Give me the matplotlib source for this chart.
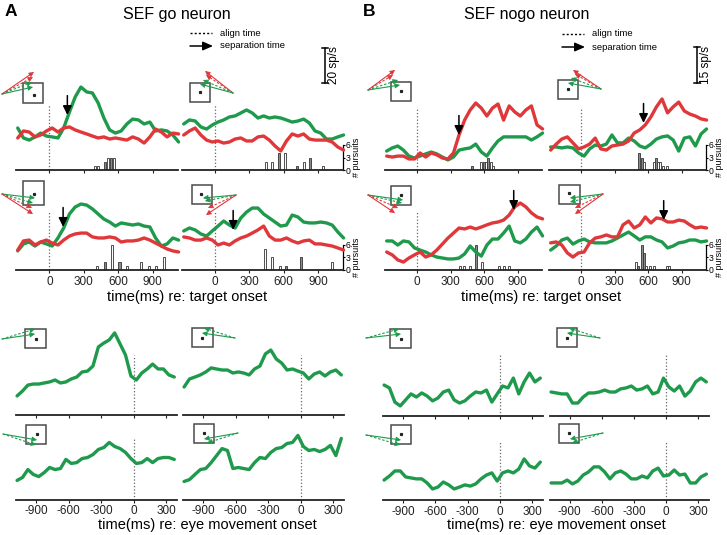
import matplotlib
matplotlib.use('Agg')
import matplotlib.pyplot as plt
from matplotlib.patches import Rectangle

plt.rcParams['font.family'] = ['Liberation Sans', 'DejaVu Sans']
plt.rcParams['axes.unicode_minus'] = False

# ---------------- data ----------------
t_target = [-275, -225, -175, -125, -75, -25, 25, 75, 125, 175, 225, 275, 325, 375,
            425, 475, 525, 575, 625, 675, 725, 775, 825, 875, 925, 975, 1025, 1075, 1125]
t_move = [-1075, -1025, -975, -925, -875, -825, -775, -725, -675, -625, -575, -525, -475,
          -425, -375, -325, -275, -225, -175, -125, -75, -25, 25, 75, 125, 175, 225, 275,
          325, 375]
target_ticks = [0, 300, 600, 900]
move_ticks = [-900, -600, -300, 0, 300]

# SEF go neuron (sp/s), target aligned
A1_go = [24.0, 18.3, 17.1, 18.9, 21.1, 19.4, 18.9, 18.3, 24.0, 33.1, 41.7, 47.4, 44.6, 44.0,
         38.3, 29.7, 22.9, 21.1, 22.3, 26.3, 29.1, 28.6, 26.3, 27.4, 22.3, 22.9, 22.3, 20.0, 16.0]
A1_nogo = [18.3, 22.3, 21.7, 18.9, 20.0, 22.3, 24.0, 21.7, 24.0, 24.6, 22.9, 21.7, 20.6, 19.4,
           18.3, 18.9, 17.7, 18.3, 17.7, 17.1, 18.9, 17.7, 15.4, 18.9, 23.4, 21.7, 18.9, 21.1, 20.6]
A2_go = [26.3, 28.6, 28.0, 24.6, 23.4, 25.7, 27.4, 28.6, 30.3, 30.9, 32.6, 34.3, 32.6, 29.7,
         30.9, 29.7, 30.3, 29.7, 28.6, 27.4, 28.0, 29.1, 26.9, 22.3, 21.1, 17.7, 17.7, 18.9, 20.0]
A2_nogo = [20.0, 22.3, 24.0, 20.0, 17.1, 16.0, 16.6, 15.4, 16.0, 17.7, 18.3, 16.6, 16.6, 18.9,
           19.4, 17.1, 13.7, 10.9, 16.6, 20.6, 19.4, 20.6, 17.7, 17.1, 17.1, 17.1, 16.0, 13.1, 11.4]
A3_go = [10.9, 14.9, 16.0, 13.7, 16.0, 14.9, 13.7, 18.3, 24.0, 32.0, 36.0, 37.7, 37.1, 34.9,
         32.0, 29.1, 27.4, 25.1, 26.9, 26.3, 25.7, 26.3, 25.1, 24.6, 18.3, 13.7, 14.9, 18.3, 17.1]
A3_nogo = [11.4, 16.6, 17.1, 14.3, 16.0, 17.1, 15.4, 14.3, 17.1, 19.4, 20.6, 21.1, 21.1, 18.9,
           18.3, 18.3, 18.9, 18.3, 16.0, 16.6, 16.6, 17.1, 18.3, 17.1, 15.4, 13.7, 12.0, 10.9, 10.3]
A4_go = [22.3, 24.0, 22.9, 20.6, 19.4, 22.3, 25.1, 28.0, 25.7, 24.0, 29.7, 33.1, 35.4, 35.4,
         32.0, 29.7, 27.4, 25.1, 25.7, 31.4, 30.3, 27.4, 26.9, 26.9, 27.4, 26.9, 25.7, 21.7, 18.3]
A4_nogo = [18.9, 18.3, 17.1, 17.1, 18.3, 17.1, 14.3, 15.4, 14.3, 16.6, 18.3, 19.4, 21.1, 22.9,
           25.1, 19.4, 17.1, 17.1, 18.3, 16.6, 15.4, 16.6, 17.1, 14.9, 14.9, 14.3, 13.7, 12.6, 11.4]

# SEF nogo neuron (sp/s), target aligned
B1_go = [7.9, 9.2, 10.0, 8.3, 5.8, 5.0, 5.8, 6.7, 7.5, 6.7, 5.4, 4.2, 5.4, 8.3,
         8.8, 9.2, 10.8, 7.5, 5.8, 9.2, 12.1, 13.8, 13.8, 13.8, 13.8, 13.8, 12.5, 13.8, 15.4]
B1_nogo = [5.8, 5.4, 5.8, 5.8, 4.6, 4.6, 7.1, 5.4, 7.1, 6.3, 5.0, 4.6, 7.1, 14.6,
           20.8, 25.0, 27.9, 25.8, 22.5, 25.8, 27.5, 20.8, 26.7, 24.2, 22.5, 25.0, 26.7, 18.8, 17.1]
B2_go = [9.6, 9.6, 9.2, 9.6, 9.2, 7.1, 5.8, 8.8, 10.4, 10.0, 10.8, 14.6, 11.3, 11.3,
         13.3, 12.1, 10.0, 9.2, 10.8, 12.9, 13.8, 14.2, 12.5, 7.9, 13.3, 13.8, 10.0, 15.0, 17.1]
B2_nogo = [8.3, 10.8, 12.9, 13.8, 11.3, 8.8, 9.6, 10.8, 13.3, 8.8, 8.3, 10.0, 10.4, 10.8,
           12.1, 15.4, 16.7, 18.8, 22.1, 26.3, 29.6, 23.8, 26.3, 28.3, 24.6, 23.3, 22.5, 21.3, 20.8]
B3_go = [12.1, 12.1, 10.4, 12.1, 11.7, 9.2, 8.3, 7.5, 6.3, 5.4, 5.0, 4.6, 4.6, 5.0,
         6.7, 10.0, 7.5, 5.8, 10.4, 12.9, 12.9, 15.4, 18.3, 12.1, 11.3, 12.9, 15.8, 17.9, 14.2]
B3_nogo = [7.5, 6.3, 4.2, 3.3, 5.0, 6.3, 7.5, 5.4, 6.3, 8.3, 10.8, 13.3, 15.4, 17.5,
           17.1, 17.9, 17.1, 17.9, 18.8, 19.6, 20.0, 20.8, 22.9, 26.3, 27.9, 26.3, 23.8, 22.1, 21.3]
B4_go = [8.3, 10.0, 12.5, 13.3, 10.8, 12.1, 12.9, 11.7, 11.3, 11.3, 11.3, 12.1, 13.3, 14.6,
         15.8, 14.2, 12.5, 13.8, 13.8, 12.5, 11.7, 9.2, 10.0, 11.3, 11.7, 12.5, 12.5, 11.7, 12.1]
B4_nogo = [11.3, 11.7, 10.4, 7.1, 5.4, 7.1, 7.5, 11.3, 13.3, 13.8, 14.6, 13.8, 13.8, 18.8,
           20.4, 17.5, 18.8, 22.1, 19.6, 21.7, 21.3, 20.0, 20.0, 20.8, 20.4, 18.8, 17.5, 17.9, 17.5]

# eye-movement aligned (sp/s)
A5_go = [10.9, 13.7, 17.1, 17.7, 17.7, 18.3, 18.9, 20.0, 18.3, 18.9, 20.6, 21.7, 24.6, 25.1, 28.0,
         38.9, 41.1, 42.9, 46.9, 40.6, 34.3, 22.3, 20.0, 24.0, 26.3, 29.1, 26.3, 26.3, 22.9, 21.7]
A6_go = [16.0, 20.6, 21.7, 22.9, 24.6, 26.9, 26.3, 25.7, 25.7, 24.0, 24.6, 24.0, 22.9, 26.3, 28.0,
         34.9, 37.1, 32.0, 29.7, 25.7, 26.3, 25.1, 24.0, 20.6, 23.4, 24.6, 22.3, 24.6, 25.7, 22.9]
A7_go = [10.9, 12.6, 17.1, 14.3, 13.1, 15.4, 18.3, 17.1, 17.7, 22.9, 20.6, 21.1, 23.4, 24.0, 25.7,
         28.6, 29.7, 32.6, 30.3, 29.1, 26.9, 23.4, 20.6, 21.1, 23.4, 21.1, 23.4, 24.0, 24.0, 22.9]
A8_go = [10.3, 11.4, 14.3, 17.1, 17.7, 21.1, 25.1, 29.1, 28.0, 17.7, 18.3, 17.7, 17.1, 21.1, 24.0,
         23.4, 26.9, 29.1, 29.7, 32.0, 32.6, 36.6, 30.3, 28.0, 28.6, 27.4, 28.6, 30.9, 25.1, 34.9]
B5_go = [12.9, 11.7, 5.8, 4.2, 6.7, 9.2, 7.9, 9.6, 8.3, 6.3, 7.5, 10.0, 10.8, 6.7, 5.4,
         6.3, 8.3, 10.0, 9.6, 10.8, 5.8, 9.2, 12.5, 11.7, 15.8, 9.2, 14.2, 17.9, 14.2, 15.8]
B6_go = [10.0, 9.6, 9.2, 9.2, 5.4, 5.4, 7.9, 9.6, 9.6, 10.0, 10.8, 10.0, 10.0, 11.3, 11.7,
         12.5, 10.8, 11.3, 12.5, 9.2, 10.0, 15.8, 12.1, 10.4, 12.5, 8.3, 10.4, 14.2, 15.8, 14.2]
B7_go = [8.3, 10.0, 12.1, 12.1, 9.6, 9.2, 8.8, 8.8, 7.1, 4.6, 5.4, 7.5, 6.3, 4.6, 5.4,
         6.3, 5.8, 6.7, 8.8, 10.4, 11.3, 7.9, 11.3, 12.1, 11.3, 12.9, 17.1, 14.2, 13.3, 15.8]
B8_go = [7.1, 7.1, 7.1, 8.3, 6.7, 7.9, 10.4, 11.7, 13.8, 13.8, 11.7, 8.8, 11.3, 12.1, 10.8,
         8.8, 8.8, 10.0, 9.2, 12.1, 13.3, 10.0, 10.4, 12.5, 10.4, 10.8, 7.1, 7.1, 9.6, 10.8]

# separation times (ms) and firing rate at arrow tip (sp/s)
sep_A1 = (157, 31.4)
sep_A3 = (120, 24.6)
sep_A4 = (158, 22.9)
sep_B1 = (374, 14.6)
sep_B2 = (559, 19.6)
sep_B3 = (866, 25.0)
sep_B4 = (740, 20.8)

# pursuit-onset histograms: bin centre (ms), count, filled (1) / open (0)
hA1_t = [400, 425, 487, 512, 537, 562]
hA1_n = [1, 1, 2, 3, 3, 3]
hA1_f = [0, 0, 1, 0, 1, 0]
hA2_t = [447, 501, 562, 614, 720, 778, 830, 945]
hA2_n = [2, 2, 4, 4, 1, 2, 3, 1]
hA2_f = [0, 0, 1, 0, 1, 0, 1, 0]
hA3_t = [416, 481, 544, 611, 674, 802, 868, 932, 999]
hA3_n = [1, 2, 6, 2, 1, 2, 1, 1, 3]
hA3_f = [0, 1, 0, 1, 0, 0, 0, 0, 0]
hA4_t = [441, 502, 565, 623, 753, 1020]
hA4_n = [5, 3, 1, 1, 3, 2]
hA4_f = [0, 0, 0, 1, 1, 0]
hB1_t = [493, 574, 597, 618, 638, 659, 680]
hB1_n = [1, 2, 2, 2, 3, 2, 1]
hB1_f = [1, 0, 1, 0, 1, 0, 0]
hB2_t = [520, 544, 564, 649, 669, 690, 710, 731, 772]
hB2_n = [4, 3, 2, 2, 3, 2, 2, 1, 1]
hB2_f = [1, 1, 0, 0, 1, 0, 0, 0, 0]
hB3_t = [380, 420, 470, 529, 577, 736, 780, 825]
hB3_n = [1, 1, 1, 6, 2, 1, 1, 1]
hB3_f = [0, 0, 0, 1, 0, 0, 0, 0]
hB4_t = [488, 509, 542, 564, 585, 615, 650, 768, 791]
hB4_n = [2, 1, 6, 4, 1, 1, 1, 1, 1]
hB4_f = [0, 1, 1, 1, 0, 0, 0, 0, 0]

# ---------------- style ----------------
GREEN = '#1f9a4c'
RED = '#e0383a'
BARGREY = '#8a8a8a'
LW = 2.4
A_PX = 35 / 20.0   # pixels per sp/s (20 sp/s scale bar)
B_PX = 36 / 15.0   # pixels per sp/s (15 sp/s scale bar)
TGT_XLIM = (-290, 1120)
MOV_XLIM = (-1085, 400)

W, H = 727, 535
fig = plt.figure(figsize=(7.27, 5.35), dpi=100)


def px_axes(x0, x1, ytop, ybot):
    return fig.add_axes([x0 / W, 1 - ybot / H, (x1 - x0) / W, (ybot - ytop) / H])


def style_bottom(ax, ticks, labels):
    for s in ['left', 'right', 'top']:
        ax.spines[s].set_visible(False)
    ax.spines['bottom'].set_linewidth(1.3)
    ax.spines['bottom'].set_color('#222222')
    ax.set_yticks([])
    ax.set_xticks(ticks)
    ax.tick_params(axis='x', direction='out', length=2.5, width=0.8, labelsize=8.5,
                   pad=1.5, labelbottom=labels, colors='#222222')
    ax.patch.set_alpha(0)


def sep_arrow(ax, sep):
    ax.annotate('', xy=sep, xytext=(0, 14), textcoords='offset points',
                arrowprops=dict(arrowstyle='-|>,head_length=0.45,head_width=0.22',
                                mutation_scale=12, color='k', lw=1.1,
                                shrinkA=0, shrinkB=0), zorder=6)


def target_panel(x0, x1, ytop, ybot, pxper, go, nogo, ht, hn, hf, sep, labels, hist_axis, dfrac):
    hpx = ybot - ytop
    axh = px_axes(x0, x1, ytop, ybot)
    axh.set_xlim(*TGT_XLIM)
    axh.set_ylim(0, 6 * hpx / 25.0)
    axh.bar(ht, hn, width=18, color=[BARGREY if f else 'white' for f in hf],
            edgecolor='#333333', linewidth=0.6)
    for s in ['left', 'top', 'bottom']:
        axh.spines[s].set_visible(False)
    axh.set_xticks([])
    if hist_axis:
        axh.spines['right'].set_bounds(0, 6)
        axh.spines['right'].set_linewidth(0.9)
        axh.yaxis.tick_right()
        axh.set_yticks([0, 3, 6])
        axh.tick_params(axis='y', length=1.5, width=0.8, labelsize=6.2, pad=0.4)
        axh.text(1 + 13.5 / (x1 - x0), 12.5 / hpx, '# pursuits', transform=axh.transAxes,
                 rotation=90, ha='center', va='center', fontsize=6.5)
    else:
        axh.spines['right'].set_visible(False)
        axh.set_yticks([])
    axh.patch.set_alpha(0)

    ax = px_axes(x0, x1, ytop, ybot)
    ax.set_xlim(*TGT_XLIM)
    ax.set_ylim(0, hpx / pxper)
    ax.axvline(0, ymin=0, ymax=dfrac, color='#666666', ls=':', lw=0.9)
    ax.plot(t_target, go, color=GREEN, lw=LW, clip_on=False, solid_capstyle='round', zorder=3)
    ax.plot(t_target, nogo, color=RED, lw=LW, clip_on=False, solid_capstyle='round', zorder=4)
    if sep is not None:
        sep_arrow(ax, sep)
    style_bottom(ax, target_ticks, labels)


def move_panel(x0, x1, ytop, ybot, pxper, go, labels, dfrac):
    hpx = ybot - ytop
    ax = px_axes(x0, x1, ytop, ybot)
    ax.set_xlim(*MOV_XLIM)
    ax.set_ylim(0, hpx / pxper)
    ax.axvline(0, ymin=0, ymax=dfrac, color='#666666', ls=':', lw=0.9)
    ax.plot(t_move, go, color=GREEN, lw=LW, clip_on=False, solid_capstyle='round', zorder=3)
    style_bottom(ax, move_ticks, labels)


# target-aligned rows
target_panel(16, 178, 75, 170, A_PX, A1_go, A1_nogo, hA1_t, hA1_n, hA1_f, sep_A1, False, False, 0.70)
target_panel(182, 343, 75, 170, A_PX, A2_go, A2_nogo, hA2_t, hA2_n, hA2_f, None, False, True, 0.70)
target_panel(16, 178, 178, 270, A_PX, A3_go, A3_nogo, hA3_t, hA3_n, hA3_f, sep_A3, True, False, 0.63)
target_panel(182, 343, 178, 270, A_PX, A4_go, A4_nogo, hA4_t, hA4_n, hA4_f, sep_A4, True, True, 0.63)
target_panel(385, 542, 75, 170, B_PX, B1_go, B1_nogo, hB1_t, hB1_n, hB1_f, sep_B1, False, False, 0.66)
target_panel(549, 706, 75, 170, B_PX, B2_go, B2_nogo, hB2_t, hB2_n, hB2_f, sep_B2, False, True, 0.66)
target_panel(385, 542, 178, 270, B_PX, B3_go, B3_nogo, hB3_t, hB3_n, hB3_f, sep_B3, True, False, 0.63)
target_panel(549, 706, 178, 270, B_PX, B4_go, B4_nogo, hB4_t, hB4_n, hB4_f, sep_B4, True, True, 0.63)

# movement-aligned rows
move_panel(16, 177, 318, 415, A_PX, A5_go, False, 0.62)
move_panel(183, 344, 318, 415, A_PX, A6_go, False, 0.62)
move_panel(16, 177, 420, 499.5, A_PX, A7_go, True, 0.78)
move_panel(183, 344, 420, 499.5, A_PX, A8_go, True, 0.78)
move_panel(383, 543, 318, 416, B_PX, B5_go, False, 0.62)
move_panel(550, 709, 318, 416, B_PX, B6_go, False, 0.62)
move_panel(383, 543, 420, 500, B_PX, B7_go, True, 0.74)
move_panel(550, 709, 420, 500, B_PX, B8_go, True, 0.74)

# ---------------- overlay: insets, titles, legend, scale bars ----------------
ov = fig.add_axes([0, 0, 1, 1], zorder=10)
ov.set_xlim(0, W)
ov.set_ylim(H, 0)
ov.axis('off')
ov.patch.set_alpha(0)

G, R = GREEN, RED
insets = [
    # square (x, y, w, h), dot, origin, arrow ends (x, y, colour, linestyle)
    ((23, 83, 20, 20), (34, 95), (2, 94),
     [(34, 72, R, '-'), (33, 77, R, '--'), (32, 82, G, '--'), (33, 87, G, '-')]),
    ((190, 83, 20, 19), (200, 92), (233, 93),
     [(205, 71, R, '-'), (206, 75, R, '--'), (203, 80, G, '--'), (200, 84, G, '-')]),
    ((23, 181, 21, 24), (34, 194), (2, 194),
     [(35, 198, G, '-'), (33, 203, G, '--'), (32, 208, R, '--'), (33, 214, R, '-')]),
    ((192, 185, 20, 19), (201, 194), (236, 195),
     [(203, 198, G, '-'), (205, 201, G, '--'), (208, 208, R, '--'), (206, 215, R, '-')]),
    ((391, 82, 20, 19), (401, 91), (368, 90),
     [(395, 70, R, '-'), (393, 75, R, '--'), (398, 80, G, '--'), (400, 85, G, '-')]),
    ((558, 80, 20, 19), (568, 89), (601, 89),
     [(573, 70, R, '-'), (575, 74, R, '--'), (571, 78, G, '--'), (568, 83, G, '-')]),
    ((391, 186, 20, 19), (401, 195), (368, 195),
     [(403, 200, G, '-'), (402, 203, G, '--'), (398, 208, R, '--'), (395, 213, R, '-')]),
    ((559, 185, 21, 19), (569, 193), (603, 194),
     [(570, 198, G, '-'), (570, 202, G, '--'), (575, 208, R, '--'), (575, 214, R, '-')]),
    ((25, 329, 21, 19), (36, 339), (2, 339), [(35, 334, G, '-'), (35, 329, G, '--')]),
    ((192, 328, 21, 19), (202, 338), (235, 338), [(202, 333, G, '-'), (204, 328, G, '--')]),
    ((26, 425, 20, 19), (37, 434), (3, 434), [(37, 440, G, '-'), (36, 445, G, '--')]),
    ((194, 424, 20, 19), (204, 433), (238, 433), [(204, 439, G, '-'), (207, 443, G, '--')]),
    ((390, 329, 21, 19), (401, 339), (366, 338), [(401, 334, G, '-'), (399, 329, G, '--')]),
    ((557, 328, 20, 19), (567, 338), (600, 338), [(567, 333, G, '-'), (569, 328, G, '--')]),
    ((391, 425, 20, 19), (401, 434), (366, 435), [(401, 440, G, '-'), (400, 445, G, '--')]),
    ((559, 424, 20, 19), (569, 433), (603, 433), [(570, 439, G, '-'), (572, 443, G, '--')]),
]
for sq, dot, org, ends in insets:
    ov.add_patch(Rectangle(sq[:2], sq[2], sq[3], fill=False, edgecolor='#4a4a4a', lw=1.1))
    ov.plot([dot[0]], [dot[1]], 's', color='#222222', ms=1.3)
    for ex, ey, c, ls in ends:
        dx, dy = ex - org[0], ey - org[1]
        d = (dx * dx + dy * dy) ** 0.5
        bx, by = ex - 4 * dx / d, ey - 4 * dy / d
        ov.plot([org[0], bx], [org[1], by], color=c, lw=0.8,
                ls=(0, (2.2, 1.6)) if ls == '--' else '-')
        ov.annotate('', xy=(ex, ey), xytext=(bx, by),
                    arrowprops=dict(arrowstyle='-|>,head_length=0.6,head_width=0.3',
                                    mutation_scale=5, color=c, lw=0.6,
                                    shrinkA=0, shrinkB=0))

# panel letters and titles
ov.text(5, 12, 'A', fontsize=12.5, fontweight='bold', ha='left', va='center')
ov.text(363, 12, 'B', fontsize=12.5, fontweight='bold', ha='left', va='center')
ov.text(177, 14, 'SEF go neuron', fontsize=11.5, ha='center', va='center')
ov.text(527, 14, 'SEF nogo neuron', fontsize=11.5, ha='center', va='center')

# legends
for lx, ly in [(190, 33), (562, 34)]:
    ov.plot([lx, lx + 22], [ly, ly], color='k', ls=(0, (1.5, 1.5)), lw=1.0)
    ov.annotate('', xy=(lx + 23, ly + 13), xytext=(lx, ly + 13),
                arrowprops=dict(arrowstyle='-|>,head_length=0.5,head_width=0.22',
                                mutation_scale=12, color='k', lw=1.1, shrinkA=0, shrinkB=0))
    ov.text(lx + 30, ly, 'align time', fontsize=6.8, ha='left', va='center')
    ov.text(lx + 30, ly + 13, 'separation time', fontsize=6.8, ha='left', va='center')

# scale bars
for sx, y0, y1, lab in [(325, 48, 83, '20 sp/s'), (697, 47, 83, '15 sp/s')]:
    ov.plot([sx, sx], [y0, y1], color='k', lw=1.1)
    ov.plot([sx - 3, sx + 3], [y0, y0], color='k', lw=1.1)
    ov.plot([sx - 3, sx + 3], [y1, y1], color='k', lw=1.1)
    ov.text(sx + 9, (y0 + y1) / 2, lab, rotation=90, fontsize=8.5, ha='center', va='center')

# x-axis labels
ov.text(187, 297, 'time(ms) re: target onset', fontsize=10.5, ha='center', va='center')
ov.text(541, 297, 'time(ms) re: target onset', fontsize=10.5, ha='center', va='center')
ov.text(207, 525, 'time(ms) re: eye movement onset', fontsize=10.5, ha='center', va='center')
ov.text(556, 525, 'time(ms) re: eye movement onset', fontsize=10.5, ha='center', va='center')

fig.savefig('out.png', dpi=100)
